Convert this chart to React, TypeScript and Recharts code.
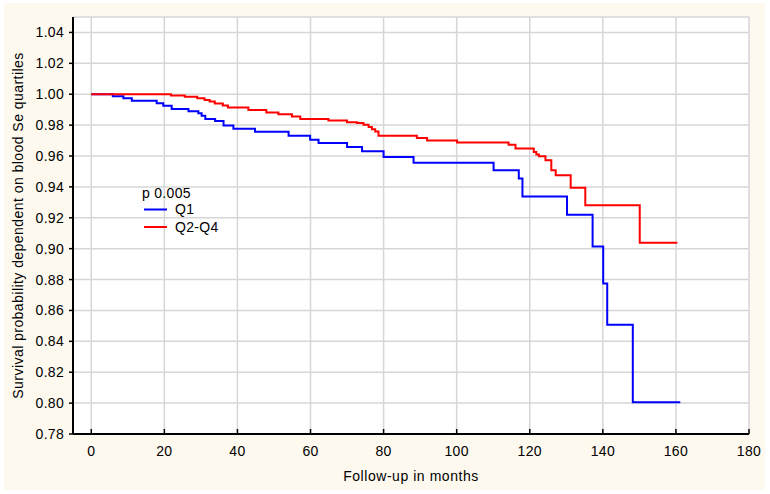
import { LineChart, Line, XAxis, YAxis, CartesianGrid, Label } from "recharts";

// Kaplan-Meier steps (months, survival)
const q1Months = [
  0, 5.9, 8.8, 11.1, 17.9, 19.7, 22.0, 26.6, 29.3, 30.2, 31.2, 33.9, 36.2, 38.9, 44.8, 54.0, 59.9, 62.2,
  70.0, 74.1, 80.0, 88.2, 110.1, 117.0, 118.0, 130.2, 137.2, 140.1, 141.2, 148.2, 161.2,
];
const q1Survival = [
  1.0, 0.9987, 0.9974, 0.9957, 0.9942, 0.9925, 0.9905, 0.989, 0.9877, 0.986, 0.9839, 0.9826, 0.9798, 0.9776,
  0.9757, 0.9731, 0.9705, 0.9684, 0.9658, 0.963, 0.9593, 0.9557, 0.9507, 0.9454, 0.9337, 0.9219, 0.9014,
  0.8774, 0.8507, 0.8006, 0.8006,
];
const q24Months = [
  0, 21.8, 25.6, 29.0, 31.0, 32.4, 33.8, 36.0, 37.4, 43.0, 47.9, 51.2, 54.9, 57.2, 64.9, 70.0, 72.7, 74.5,
  75.9, 76.8, 77.7, 78.6, 89.1, 91.9, 100.1, 114.2, 116.1, 121.1, 121.8, 122.5, 124.3, 125.9, 127.1, 131.2,
  135.2, 150.1, 160.4,
];
const q24Survival = [
  1.0, 0.9991, 0.9983, 0.9974, 0.9963, 0.9953, 0.994, 0.9927, 0.9914, 0.9898, 0.9881, 0.9871, 0.9855, 0.984,
  0.983, 0.9819, 0.9813, 0.9802, 0.9787, 0.9774, 0.9759, 0.9731, 0.9716, 0.97, 0.9688, 0.9673, 0.9649,
  0.9626, 0.961, 0.9598, 0.9572, 0.9507, 0.9475, 0.9394, 0.9281, 0.9039, 0.9039,
];

const xTicks = [0, 20, 40, 60, 80, 100, 120, 140, 160, 180];
const yTicks = [0.78, 0.8, 0.82, 0.84, 0.86, 0.88, 0.9, 0.92, 0.94, 0.96, 0.98, 1.0, 1.02, 1.04];
const seriesNames = ["Q1", "Q2-Q4"];
const seriesColors = ["#0000ff", "#ff0000"];
const pValueText = "p 0.005";
const xTitle = "Follow-up in months";
const yTitle = "Survival probability dependent on blood Se quartiles";

const q1Data = q1Months.map((t, i) => ({ t, s: q1Survival[i] }));
const q24Data = q24Months.map((t, i) => ({ t, s: q24Survival[i] }));

const font = "Arial, 'Liberation Sans', sans-serif";
const tickStyle = { fontSize: 14, fill: "#000", fontFamily: font, letterSpacing: 0.3 };

export default function App() {
  return (
    <div style={{ position: "absolute", left: 0, top: 0, width: 770, height: 494, background: "#fff" }}>
      <div style={{ position: "absolute", left: 4, top: 3, width: 761, height: 487, background: "#fdf9ef" }} />
      <div style={{ position: "absolute", left: 0, top: 0 }}>
        <LineChart width={770} height={494} margin={{ top: 17, right: 21, left: 13, bottom: 10 }}>
          <CartesianGrid stroke="#d6d6d6" strokeWidth={1.5} fill="#fff" />
          <XAxis
            type="number"
            dataKey="t"
            domain={[-5, 180]}
            ticks={xTicks}
            allowDataOverflow
            height={50}
            tick={tickStyle}
            tickSize={-5}
            tickMargin={17}
            tickLine={{ stroke: "#000", strokeWidth: 1.5 }}
            axisLine={{ stroke: "#000", strokeWidth: 2 }}
          >
            <Label
              content={({ viewBox }: any) => (
                <text x={viewBox.x + viewBox.width / 2} y={viewBox.y + 47} textAnchor="middle" fontSize={14} fontFamily={font} letterSpacing={0.55} fill="#000">
                  {xTitle}
                </text>
              )}
            />
          </XAxis>
          <XAxis
            xAxisId="top"
            orientation="top"
            type="number"
            domain={[-5, 180]}
            ticks={xTicks}
            allowDataOverflow
            height={0}
            mirror
            tick={false}
            tickSize={5}
            tickLine={{ stroke: "#000", strokeWidth: 1.5 }}
            axisLine={{ stroke: "#000", strokeWidth: 2 }}
          />
          <YAxis
            type="number"
            domain={[0.78, 1.05]}
            ticks={yTicks}
            allowDataOverflow
            width={60}
            tick={tickStyle}
            tickFormatter={(v: number) => v.toFixed(2)}
            tickSize={4}
            tickMargin={5}
            tickLine={{ stroke: "#000", strokeWidth: 1.5 }}
            axisLine={{ stroke: "#000", strokeWidth: 2 }}
          >
            <Label
              content={({ viewBox }: any) => {
                const x = viewBox.x + 10;
                const y = viewBox.y + viewBox.height / 2;
                return (
                  <text x={x} y={y} transform={`rotate(-90, ${x}, ${y})`} textAnchor="middle" fontSize={14} fontFamily={font} letterSpacing={0.45} fill="#000">
                    {yTitle}
                  </text>
                );
              }}
            />
          </YAxis>
          <YAxis
            yAxisId="right"
            orientation="right"
            type="number"
            domain={[0.78, 1.05]}
            ticks={yTicks}
            allowDataOverflow
            width={0}
            mirror
            tick={false}
            tickSize={5}
            tickLine={{ stroke: "#000", strokeWidth: 1.5 }}
            axisLine={{ stroke: "#000", strokeWidth: 2 }}
          />
          <Line
            data={q1Data}
            dataKey="s"
            name={seriesNames[0]}
            type="stepAfter"
            stroke={seriesColors[0]}
            strokeWidth={2}
            dot={false}
            isAnimationActive={false}
          />
          <Line
            data={q24Data}
            dataKey="s"
            name={seriesNames[1]}
            type="stepAfter"
            stroke={seriesColors[1]}
            strokeWidth={2}
            dot={false}
            isAnimationActive={false}
          />
        </LineChart>
      </div>
      <svg
        width={770}
        height={494}
        style={{ position: "absolute", left: 0, top: 0, pointerEvents: "none" }}
        fontFamily={font}
        fontSize={14}
        letterSpacing={0.3}
      >
        <text x={142} y={198} fill="#000">
          {pValueText}
        </text>
        {seriesNames.map((name, i) => (
          <g key={name}>
            <line x1={144} x2={167} y1={209.5 + i * 17.5} y2={209.5 + i * 17.5} stroke={seriesColors[i]} strokeWidth={2} />
            <text x={175} y={214 + i * 18} fill="#000">
              {name}
            </text>
          </g>
        ))}
      </svg>
    </div>
  );
}
